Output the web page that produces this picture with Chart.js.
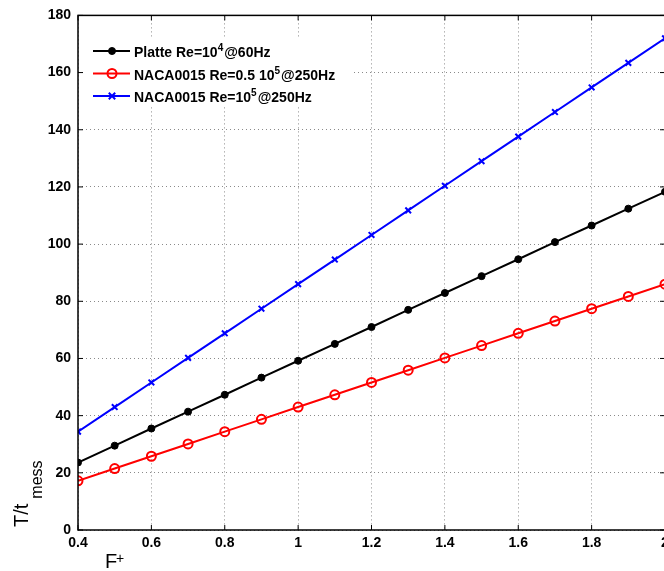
<!DOCTYPE html>
<html>
<head>
<meta charset="utf-8">
<script src="https://cdn.jsdelivr.net/npm/chart.js@4"></script>
<style>
  html, body { margin: 0; padding: 0; background: #fff; overflow: hidden; }
  #wrap { width: 720px; height: 571px; }
</style>
</head>
<body>
<div id="wrap"><canvas id="chart" width="720" height="571"></canvas></div>
<script>
// F+ values
var forcing = [0.4, 0.5, 0.6, 0.7, 0.8, 0.9, 1.0, 1.1, 1.2, 1.3, 1.4, 1.5, 1.6, 1.7, 1.8, 1.9, 2.0]

// T/t_mess for each case
var platte = [23.6, 29.5, 35.5, 41.4, 47.3, 53.3, 59.2, 65.1, 71.0, 77.0, 82.9, 88.8, 94.7, 100.7, 106.5, 112.4, 118.3]
var naca05 = [17.2, 21.5, 25.8, 30.1, 34.4, 38.7, 43.0, 47.3, 51.6, 55.9, 60.2, 64.5, 68.8, 73.1, 77.4, 81.7, 86.0]
var naca10 = [34.4, 43.0, 51.6, 60.2, 68.8, 77.4, 86.0, 94.6, 103.2, 111.8, 120.4, 129.0, 137.6, 146.2, 154.8, 163.4, 172.0]

// ^n marks a superscript digit
var seriesLabels = ['Platte Re=10^4@60Hz', 'NACA0015 Re=0.5 10^5@250Hz', 'NACA0015 Re=10^5@250Hz']

var yTicks = { min: 0, max: 180, step: 20 }
var xTicks = { min: 0.4, max: 2, step: 0.2 }

var FONT = '"Liberation Sans", Arial, Helvetica, sans-serif'

function points(ys) {
  return forcing.map((x, i) => ({ x: x, y: ys[i] }))
}

// split "10^4" into normal / superscript runs
function richParts(text) {
  let parts = []
  text.split(/\^(\d)/).forEach((s, i) => {
    if (s !== '') parts.push({ text: s, sup: i % 2 === 1 })
  })
  return parts
}

function drawMarker(ctx, ds, x, y) {
  ctx.save()
  ctx.lineWidth = ds.pointBorderWidth
  ctx.strokeStyle = ds.borderColor
  ctx.fillStyle = ds.pointBackgroundColor
  let r = ds.pointRadius
  ctx.beginPath()
  if (ds.pointStyle === 'crossRot') {
    ctx.moveTo(x - r * 0.8, y - r * 0.8); ctx.lineTo(x + r * 0.8, y + r * 0.8)
    ctx.moveTo(x + r * 0.8, y - r * 0.8); ctx.lineTo(x - r * 0.8, y + r * 0.8)
    ctx.stroke()
  } else {
    ctx.arc(x, y, r, 0, Math.PI * 2)
    ctx.fill()
    ctx.stroke()
  }
  ctx.restore()
}

// axes box, inward ticks, legend and axis titles
var matlabAxes = {
  id: 'matlabAxes',
  afterDraw(chart) {
    let ctx = chart.ctx
    let a = chart.chartArea
    let xs = chart.scales.x
    let ys = chart.scales.y
    let tl = 5

    ctx.save()
    ctx.strokeStyle = '#000'
    ctx.lineWidth = 1
    ctx.beginPath()
    xs.ticks.forEach(t => {
      let px = xs.getPixelForValue(t.value)
      ctx.moveTo(px, a.bottom); ctx.lineTo(px, a.bottom - tl)
      ctx.moveTo(px, a.top); ctx.lineTo(px, a.top + tl)
    })
    ys.ticks.forEach(t => {
      let py = ys.getPixelForValue(t.value)
      ctx.moveTo(a.left, py); ctx.lineTo(a.left + tl, py)
      ctx.moveTo(a.right, py); ctx.lineTo(a.right - tl, py)
    })
    ctx.stroke()

    ctx.lineWidth = 1.5
    ctx.strokeRect(a.left, a.top, a.right - a.left, a.bottom - a.top)

    // legend
    ctx.fillStyle = '#fff'
    ctx.fillRect(a.left + 8, 38, 268, 68)
    let baselines = [57, 79.5, 102]
    chart.data.datasets.forEach((ds, i) => {
      let by = baselines[i]
      let ly = by - 6
      ctx.strokeStyle = ds.borderColor
      ctx.lineWidth = 2
      ctx.beginPath()
      ctx.moveTo(93, ly); ctx.lineTo(130, ly)
      ctx.stroke()
      drawMarker(ctx, ds, 112, ly)

      let x = 134
      ctx.fillStyle = '#000'
      ctx.textBaseline = 'alphabetic'
      ctx.textAlign = 'left'
      richParts(ds.label).forEach(p => {
        ctx.font = p.sup ? 'bold 10px ' + FONT : 'bold 14px ' + FONT
        ctx.fillText(p.text, x, p.sup ? by - 6 : by)
        x += ctx.measureText(p.text).width + (p.sup ? 1 : 0)
      })
    })

    // x title: F+
    ctx.fillStyle = '#000'
    ctx.font = '20px ' + FONT
    ctx.fillText('F', 105, 568)
    ctx.font = '14px ' + FONT
    ctx.fillText('+', 116, 563)

    // y title: T/t_mess
    ctx.translate(28, 527)
    ctx.rotate(-Math.PI / 2)
    ctx.font = '20px ' + FONT
    ctx.fillText('T/t', 0, 0)
    let w = ctx.measureText('T/t').width
    ctx.font = '16px ' + FONT
    ctx.fillText('mess', w + 5, 14)
    ctx.restore()
  }
}

var colors = ['#000000', '#ff0000', '#0000ff']

var datasets = [
  {
    label: seriesLabels[0],
    data: points(platte),
    borderColor: colors[0],
    backgroundColor: colors[0],
    pointBackgroundColor: colors[0],
    pointStyle: 'circle',
    pointRadius: 3.5,
    pointBorderWidth: 1
  },
  {
    label: seriesLabels[1],
    data: points(naca05),
    borderColor: colors[1],
    backgroundColor: colors[1],
    pointBackgroundColor: 'rgba(0,0,0,0)',
    pointStyle: 'circle',
    pointRadius: 4.5,
    pointBorderWidth: 2
  },
  {
    label: seriesLabels[2],
    data: points(naca10),
    borderColor: colors[2],
    backgroundColor: colors[2],
    pointBackgroundColor: colors[2],
    pointStyle: 'crossRot',
    pointRadius: 4,
    pointBorderWidth: 2
  }
]
datasets.forEach(ds => {
  ds.borderWidth = 2
  ds.fill = false
  ds.tension = 0
  ds.pointHoverRadius = ds.pointRadius
})

var grid = { color: '#8a8a8a', lineWidth: 1, drawTicks: false }
var border = { display: false, dash: [1, 3] }

new Chart(document.getElementById('chart'), {
  type: 'line',
  data: { datasets: datasets },
  plugins: [matlabAxes],
  options: {
    responsive: false,
    animation: false,
    devicePixelRatio: 1,
    layout: { padding: { top: 12, right: 55, left: 0, bottom: 0 } },
    plugins: {
      legend: { display: false },
      tooltip: { enabled: false }
    },
    scales: {
      x: {
        type: 'linear',
        min: xTicks.min,
        max: xTicks.max,
        grid: grid,
        border: border,
        afterFit: s => { s.height = 41 },
        ticks: {
          stepSize: xTicks.step,
          padding: 5,
          color: '#000',
          font: { family: FONT, size: 14, weight: 'bold' },
          maxRotation: 0,
          callback: v => String(Number(v.toFixed(1)))
        }
      },
      y: {
        min: yTicks.min,
        max: yTicks.max,
        grid: grid,
        border: border,
        afterFit: s => { s.width = 78 },
        ticks: {
          stepSize: yTicks.step,
          padding: 7,
          color: '#000',
          font: { family: FONT, size: 14, weight: 'bold' }
        }
      }
    }
  }
})
</script>
</body>
</html>
